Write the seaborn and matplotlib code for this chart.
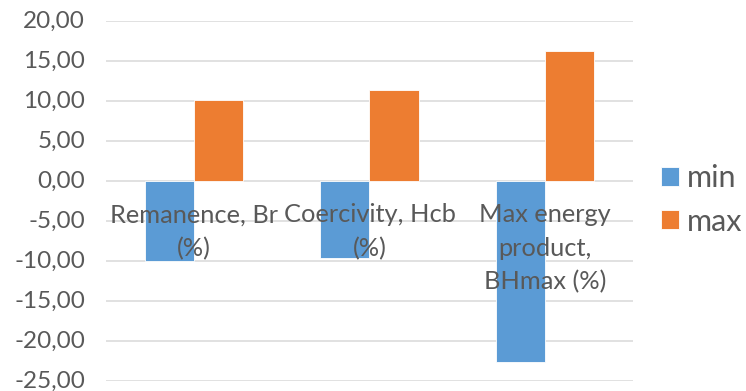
import matplotlib
matplotlib.use("Agg")
import matplotlib.pyplot as plt
import seaborn as sns
import pandas as pd
from matplotlib.ticker import FuncFormatter, MultipleLocator

categories = ["Remanence, Br\n(%)", "Coercivity, Hcb\n(%)", "Max energy\nproduct,\nBHmax (%)"]
min_values = [-10.05, -9.6, -22.6]
max_values = [10.1, 11.35, 16.3]
series = ["min", "max"]
colors = ["#5B9BD5", "#ED7D31"]

df = pd.DataFrame({
    "category": categories * 2,
    "series": ["min"] * 3 + ["max"] * 3,
    "value": min_values + max_values,
})

sns.set_style("white")
plt.rcParams["font.family"] = ["Lato", "DejaVu Sans"]

fig = plt.figure(figsize=(7.46, 3.91), dpi=100)
ax = fig.add_axes([0.1421, 0.0256, 0.7064, 0.9207])

sns.barplot(data=df, x="category", y="value", hue="series", hue_order=series,
            palette=colors, saturation=1, width=0.56, gap=0, ax=ax,
            edgecolor="#FFFFFF", linewidth=0.6, errorbar=None, legend=True)

ax.set_xlim(-0.5, 2.5)
ax.set_ylim(-25, 20)
ax.yaxis.set_major_locator(MultipleLocator(5))
ax.yaxis.set_major_formatter(FuncFormatter(lambda v, p: f"{v:.2f}".replace(".", ",")))
ax.grid(axis="y", color="#D9D9D9", linewidth=1.1)
ax.grid(axis="x", visible=False)
ax.set_axisbelow(True)
ax.xaxis.set_zorder(5)
for s in ["left", "right", "top"]:
    ax.spines[s].set_visible(False)
ax.spines["bottom"].set_position(("data", 0))
ax.spines["bottom"].set_visible(False)
ax.tick_params(axis="y", length=0, labelsize=17.5, labelcolor="#595959", pad=15)
ax.tick_params(axis="x", length=0, labelsize=18.3, labelcolor="#595959", pad=16)
for lbl in ax.get_yticklabels():
    lbl.set_verticalalignment("center")
for lbl in ax.get_xticklabels():
    lbl.set_linespacing(1.55)
    lbl.set_verticalalignment("top")
    lbl.set_horizontalalignment("center")
ax.set_xlabel("")
ax.set_ylabel("")

leg = ax.legend(loc="center left", bbox_to_anchor=(0.886, 0.4885),
                bbox_transform=fig.transFigure, frameon=False,
                fontsize=22, handlelength=0.59, handleheight=0.59, handletextpad=0.26,
                labelspacing=0.5, borderpad=0, borderaxespad=0, labelcolor="#595959")

fig.savefig("out.png", dpi=100)
